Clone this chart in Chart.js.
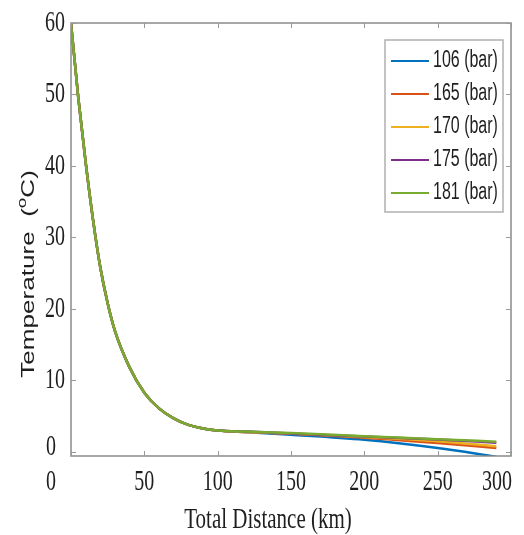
<!DOCTYPE html>
<html>
<head>
<meta charset="utf-8">
<title>Temperature vs distance</title>
<script src="https://cdn.jsdelivr.net/npm/chart.js@4"></script>
<style>
    body { margin: 0; background: #fff; }
    canvas { display: block; }
</style>
</head>
<body>
<canvas id="chart" width="524" height="535"></canvas>

<script>

    // distance along the line (km)
    const distance = [0, 5, 10, 15, 20, 25, 30, 40, 50, 60, 70, 80, 90, 100, 120, 150, 200, 250, 290]

    // temperature (C) for each inlet pressure
    const temp106 = [60, 49.5, 40.5, 32.5, 25.8, 20.8, 16.9, 11.8, 8.3, 6.1, 4.7, 3.8, 3.3, 3.0, 2.75, 2.4, 1.7, 0.55, -0.65]
    const temp165 = [60, 49.5, 40.5, 32.5, 25.8, 20.8, 16.9, 11.8, 8.3, 6.1, 4.7, 3.8, 3.3, 3.0, 2.8, 2.55, 2.0, 1.25, 0.55]
    const temp170 = [60, 49.5, 40.5, 32.5, 25.8, 20.8, 16.9, 11.8, 8.3, 6.1, 4.7, 3.8, 3.3, 3.0, 2.8, 2.6, 2.1, 1.5, 0.8]
    const temp175 = [60, 49.5, 40.5, 32.5, 25.8, 20.8, 16.9, 11.8, 8.3, 6.1, 4.7, 3.8, 3.3, 3.0, 2.85, 2.6, 2.15, 1.75, 1.3]
    const temp181 = [60, 49.5, 40.5, 32.5, 25.8, 20.8, 16.9, 11.8, 8.3, 6.1, 4.7, 3.8, 3.3, 3.0, 2.85, 2.65, 2.2, 1.8, 1.45]

    const seriesLabels = ['106 (bar)', '165 (bar)', '170 (bar)', '175 (bar)', '181 (bar)']
    const seriesData = [temp106, temp165, temp170, temp175, temp181]
    const colors = ['#0072BD', '#D95319', '#EDB120', '#7E2F8E', '#77AC30']

    const xTicks = [0, 50, 100, 150, 200, 250, 300]
    const yTicks = [0, 10, 20, 30, 40, 50, 60]

    const STRETCH = 1.45
    const INK = '#1e1e1e'

    // text squashed horizontally / stretched vertically like the old matlab export
    function tallText(ctx, txt, x, y, font, align) {
        ctx.save()
        ctx.translate(x, y)
        ctx.scale(1, STRETCH)
        ctx.font = font
        ctx.textAlign = align
        ctx.textBaseline = 'middle'
        ctx.fillStyle = INK
        ctx.fillText(txt, 0, 0)
        ctx.restore()
    }

    const axesPlugin = {
        id: 'matlabAxes',
        afterDatasetsDraw(chart) {
            const {ctx, chartArea: a, scales: {x, y}} = chart

            // box
            ctx.save()
            ctx.strokeStyle = '#8a8a8a'
            ctx.lineWidth = 1.5
            ctx.strokeRect(a.left, a.top, a.right - a.left, a.bottom - a.top)

            // inward ticks
            ctx.lineWidth = 1
            ctx.strokeStyle = '#999'
            ctx.beginPath()
            xTicks.forEach(v => {
                const px = Math.round(x.getPixelForValue(v)) + 0.5
                ctx.moveTo(px, a.bottom); ctx.lineTo(px, a.bottom - 5)
                ctx.moveTo(px, a.top); ctx.lineTo(px, a.top + 5)
            })
            yTicks.forEach(v => {
                const py = Math.round(y.getPixelForValue(v)) + 0.5
                ctx.moveTo(a.left, py); ctx.lineTo(a.left + 5, py)
                ctx.moveTo(a.right, py); ctx.lineTo(a.right - 5, py)
            })
            ctx.stroke()
            ctx.restore()

            // tick labels; the shared origin "0"s sit left of the axis, the last x label stays inside the canvas
            const serif = '20px "Liberation Serif"'
            xTicks.forEach((v, i) => {
                const px = x.getPixelForValue(v)
                if (i === 0) tallText(ctx, '0', px - 15, 482, serif, 'right')
                else if (i === xTicks.length - 1) tallText(ctx, String(v), px + 1, 482, serif, 'right')
                else tallText(ctx, String(v), px, 482, serif, 'center')
            })
            yTicks.forEach(v => {
                const py = y.getPixelForValue(v)
                if (v === 0) tallText(ctx, '0', 56, py - 5, serif, 'right')
                else tallText(ctx, String(v), 65, py, serif, 'right')
            })

            // x title
            tallText(ctx, 'Total Distance (km)', 268, 520, '21px "Liberation Serif"', 'center')

            // y title, rotated, with superscript o
            ctx.save()
            ctx.translate(29, 274)
            ctx.rotate(-Math.PI / 2)
            ctx.scale(STRETCH, 1)
            ctx.fillStyle = INK
            ctx.textBaseline = 'middle'
            const big = '18px "Liberation Sans"', small = '13px "Liberation Sans"'
            ctx.font = big
            const p1 = 'Temperature  (', p3 = 'C)'
            const w1 = ctx.measureText(p1).width, w3 = ctx.measureText(p3).width
            ctx.font = small
            const w2 = ctx.measureText('o').width
            let cx = -(w1 + w2 + w3) / 2
            ctx.font = big
            ctx.fillText(p1, cx, 0)
            ctx.font = small
            ctx.fillText('o', cx + w1, -7)
            ctx.font = big
            ctx.fillText(p3, cx + w1 + w2, 0)
            ctx.restore()

            // legend box
            ctx.save()
            ctx.fillStyle = '#fff'
            ctx.fillRect(385, 40, 118, 172)
            ctx.strokeStyle = '#b0b0b0'
            ctx.lineWidth = 1.5
            ctx.strokeRect(385, 40, 118, 172)
            seriesLabels.forEach((label, i) => {
                const ly = 61 + i * 33
                ctx.strokeStyle = colors[i]
                ctx.lineWidth = 2
                ctx.beginPath()
                ctx.moveTo(391, ly); ctx.lineTo(429, ly)
                ctx.stroke()
                tallText(ctx, label, 433, ly, '16px "Liberation Sans"', 'left')
            })
            ctx.restore()
        }
    }

    new Chart(document.getElementById('chart'), {
        type: 'line',
        data: {
            datasets: seriesData.map((temps, i) => ({
                label: seriesLabels[i],
                data: temps.map((t, k) => ({x: distance[k], y: t})),
                borderColor: colors[i],
                borderWidth: 2.5,
                pointRadius: 0,
                cubicInterpolationMode: 'monotone',
                fill: false,
                order: seriesData.length - i   // last series ends up on top
            }))
        },
        options: {
            responsive: false,
            animation: false,
            devicePixelRatio: 1,
            layout: { padding: { top: 23, right: 13, left: 0, bottom: 0 } },
            plugins: { legend: { display: false }, tooltip: { enabled: false } },
            scales: {
                x: {
                    type: 'linear', min: 0, max: 300,
                    grid: { display: false }, border: { display: false },
                    ticks: { display: false },
                    afterFit(s) { s.height = 79 }
                },
                y: {
                    min: -0.56, max: 60,
                    grid: { display: false }, border: { display: false },
                    ticks: { display: false },
                    afterFit(s) { s.width = 71 }
                }
            }
        },
        plugins: [axesPlugin]
    })

</script>
</body>
</html>
